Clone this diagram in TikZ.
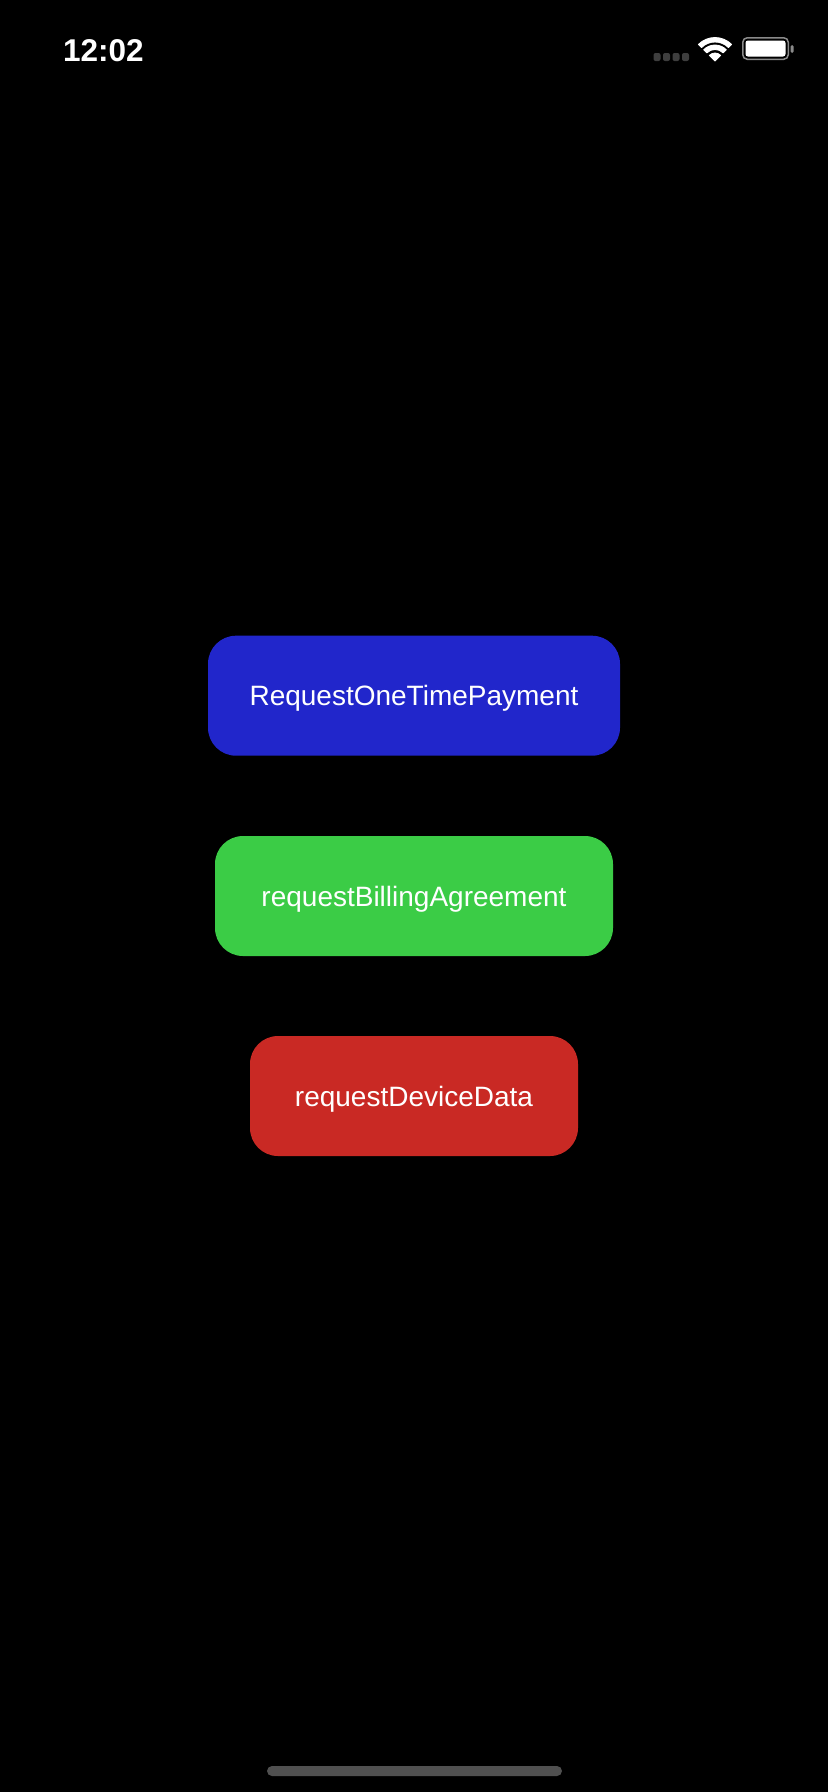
\documentclass[tikz,border=0pt]{standalone}
\usepackage{fontspec}
\setmainfont{Liberation Sans}
\definecolor{btnblue}{RGB}{33,38,203}
\definecolor{btngreen}{RGB}{59,204,70}
\definecolor{btnred}{RGB}{201,41,36}
\definecolor{dotgray}{RGB}{62,62,62}
\definecolor{batgray}{RGB}{138,138,138}
\definecolor{homegray}{RGB}{80,80,80}
\tikzset{
  btn/.style={rounded corners=28pt, minimum height=120pt, inner sep=0pt,
    text=white, font=\fontsize{28}{28}\selectfont, text height=20.5pt, text depth=0pt},
  sigdot/.style={fill=dotgray, rounded corners=2pt},
}
\begin{document}
\begin{tikzpicture}[x=1pt,y=-1pt]
\fill[black] (0,0) rectangle (828,1792);
\useasboundingbox (0,0) rectangle (828,1792);

% status bar
\node[anchor=west, inner sep=0pt, text=white, font=\bfseries\fontsize{31.5}{31.5}\selectfont,
  text height=22.5pt, text depth=0pt] (time) at (63,50) {12:02};

\foreach \cx in {657,666.5,676,685.5}
  \fill[sigdot] (\cx-3.5,53) rectangle (\cx+3.5,61);

% wifi
\fill[white, draw=white, line width=0.8pt, line join=round]
  (715,61) -- ++(225:8) arc[start angle=225,end angle=315,radius=8] -- cycle;
\fill[white, draw=white, line width=0.8pt, line join=round]
  (715,61) ++(225:11.5) arc[start angle=225,end angle=315,radius=11.5]
  -- ++(315:4.5) arc[start angle=315,end angle=225,radius=16] -- cycle;
\fill[white, draw=white, line width=0.8pt, line join=round]
  (715,61) ++(225:19) arc[start angle=225,end angle=315,radius=19]
  -- ++(315:4.5) arc[start angle=315,end angle=225,radius=23.5] -- cycle;

% battery
\draw[batgray, line width=1.5pt, rounded corners=4.5pt] (742.75,37.75) rectangle (788.25,59.25);
\fill[white, rounded corners=2.5pt] (745.5,40.5) rectangle (785.5,56.5);
\fill[batgray, rounded corners=1.5pt] (790.5,45) rectangle (793.5,53);

% buttons
\node[btn, fill=btnblue, minimum width=412pt] (onetime) at (414,695.7) {RequestOneTimePayment};
\node[btn, fill=btngreen, minimum width=398pt] (billing) at (414,896) {requestBillingAgreement};
\node[btn, fill=btnred, minimum width=328pt] (device) at (414,1096) {requestDeviceData};

% home indicator
\fill[homegray, rounded corners=5pt] (267,1766) rectangle (562,1776);
\end{tikzpicture}
\end{document}
